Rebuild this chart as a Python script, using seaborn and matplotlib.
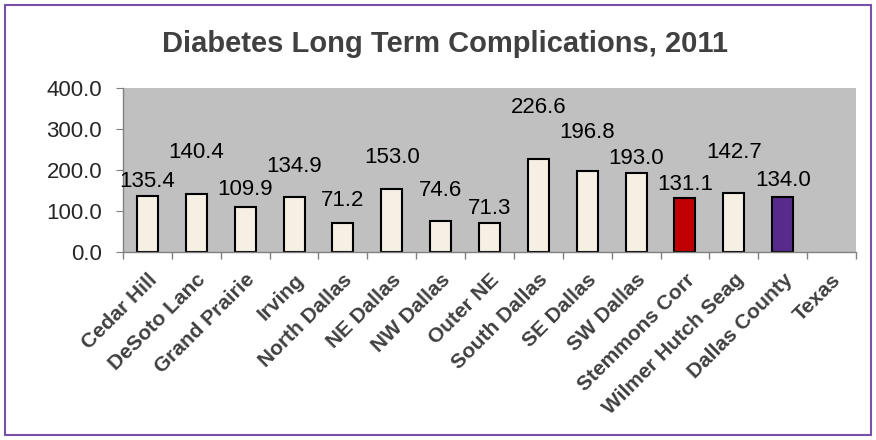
import numpy as np
import pandas as pd
import seaborn as sns
import matplotlib.pyplot as plt
from matplotlib.patches import Rectangle

# data
areas = ['Cedar Hill', 'DeSoto Lanc', 'Grand Prairie', 'Irving', 'North Dallas',
         'NE Dallas', 'NW Dallas', 'Outer NE', 'South Dallas', 'SE Dallas',
         'SW Dallas', 'Stemmons Corr', 'Wilmer Hutch Seag', 'Dallas County', 'Texas']
rates = [135.4, 140.4, 109.9, 134.9, 71.2, 153.0, 74.6, 71.3, 226.6, 196.8,
         193.0, 131.1, 142.7, 134.0, np.nan]
# label centre offsets above bar top (pixels), Excel staggered them
label_offsets = [15, 42, 17, 30, 22, 32, 31, 14, 52, 39, 14, 14, 41, 17]

# setup
sns.set_style('white')
plt.rcParams['font.family'] = ['Liberation Sans', 'DejaVu Sans']

data = pd.DataFrame({'area': areas, 'rate': rates})
colors = ['#F6EFE4'] * len(areas)
colors[areas.index('Stemmons Corr')] = '#C00000'
colors[areas.index('Dallas County')] = '#582A8C'

fig = plt.figure(figsize=(8.76, 4.4), dpi=100)
ax = fig.add_axes([123 / 876, 1 - 252 / 440, (856 - 123) / 876, (252 - 88) / 440])

sns.barplot(x='area', y='rate', data=data, hue='area', palette=colors, legend=False,
            width=0.43, edgecolor='black', linewidth=1.5, ax=ax, saturation=1)

ax.set_facecolor('#C0C0C0')
ax.set_ylim(0, 400)
ax.set_xlim(-0.5, len(areas) - 0.5)
ax.set_yticks([0, 100, 200, 300, 400])
ax.set_yticklabels([f'{v:.1f}' for v in [0, 100, 200, 300, 400]], fontsize=16)
ax.set_xlabel('')
ax.set_ylabel('')
ax.set_xticks(range(len(areas)))
ax.set_xticklabels(areas, rotation=45, ha='right', rotation_mode='anchor',
                   fontsize=15, fontweight='bold', color='#404040')
ax.tick_params(axis='x', length=0, pad=13)
ax.tick_params(axis='y', length=5, left=True, color='#808080', pad=10)
# category separators on the x axis
ax.set_xticks(np.arange(-0.5, len(areas)), minor=True)
ax.tick_params(axis='x', which='minor', length=5, bottom=True, color='#808080', width=1)
for side in ['top', 'right']:
    ax.spines[side].set_visible(False)
for side in ['left', 'bottom']:
    ax.spines[side].set_color('#808080')
    ax.spines[side].set_linewidth(1)

for i, (v, off) in enumerate(zip(rates, label_offsets)):
    ax.annotate(f'{v:.1f}', (i, v), xytext=(0, off), textcoords='offset pixels',
                ha='center', va='center', fontsize=16, color='black')

fig.text(445 / 876, 1 - 44 / 440, 'Diabetes Long Term Complications, 2011', ha='center',
         va='center', fontsize=21, fontweight='bold', color='#404040')

fig.patches.append(Rectangle((5 / 876, 5 / 440), 866 / 876, 430 / 440, transform=fig.transFigure,
                             fill=False, edgecolor='#7851A9', linewidth=1.5))

fig.savefig('out.png', dpi=100)
